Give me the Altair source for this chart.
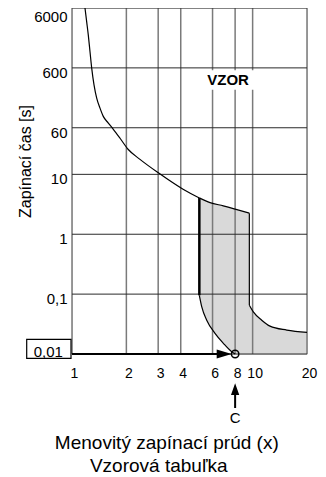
import altair as alt
import pandas as pd

FONT = "Liberation Sans"

# ---- axis ticks / labels ----
x_ticks = [1, 2, 3, 4, 6, 8, 10, 20]
y_ticks = [0.01, 0.1, 1, 10, 60, 600, 6000]
y_tick_labels = ["0,01", "0,1", "1", "10", "60", "600", "6000"]

# ---- curves ----
upper_x = [1.18, 1.206, 1.231, 1.258, 1.286, 1.324, 1.37, 1.429, 1.49, 1.589, 1.693, 1.845,
           2.049, 2.379, 3.006, 4.12, 5.07, 5.81, 6.88, 9.59]
upper_y = [6000, 3512, 2112, 1115, 589, 312, 187, 127.7, 93, 71.9, 56.6, 40.1,
           26.0, 17.8, 10.6, 5.64, 4.04, 3.38, 2.98, 2.25]
right_x = [9.59, 10.09, 11.23, 12.48, 15.45, 20]
right_y = [0.0652, 0.0504, 0.0367, 0.0292, 0.0251, 0.0229]
left_x = [5.07, 5.23, 5.57, 6.19, 6.88, 7.66, 8.0]
left_y = [0.0955, 0.061, 0.0367, 0.0221, 0.0151, 0.0109, 0.01]

band_left = 5.07
marker = (8, 0.01)
arrow_head_x = 6.96
vzor_box = dict(x1=5.38, x2=10.71, y1=258, y2=550)
vzor_pos = (7.31, 372)

# ---- scales & axes ----
xscale = alt.Scale(type="log", domain=[1, 20], nice=False)
yscale = alt.Scale(type="log", domain=[0.01, 6000], nice=False)


def y_label_expr():
    expr = "datum.label"
    for v, lab in zip(y_ticks, y_tick_labels):
        out = "" if v == y_ticks[0] else lab
        expr = f"datum.value == {v} ? '{out}' : ({expr})"
    return expr


xaxis = alt.Axis(
    values=x_ticks, grid=False, domain=False, ticks=False, tickSize=0,
    labelFlush=False, labelOverlap=False, labelOffset=2, labelPadding=12,
    labelFontSize=14, labelFont=FONT, labelColor="black", format="d",
    title="Menovitý zapínací prúd (x)", titleFont=FONT, titleFontSize=19,
    titleFontWeight="normal", titleColor="black", titleX=94.3, titleY=94.3,
    titleAlign="center", titleBaseline="alphabetic",
)
yaxis = alt.Axis(
    values=y_ticks, grid=False, domain=False, ticks=False, tickSize=0,
    labelExpr=y_label_expr(), labelFlush=False, labelOverlap=False,
    labelFontSize=15, labelFont=FONT, labelColor="black", labelPadding=5,
    labelOffset={"condition": {"test": f"datum.value == {y_ticks[-1]}", "value": 8}, "value": 4.5},
    labelBaseline="middle",
    title="Zapínací čas [s]", titleFont=FONT, titleFontSize=16,
    titleFontWeight="normal", titleColor="black", titleAngle=270,
    titleX=-46.5, titleY=153, titleAlign="center", titleBaseline="middle",
)


def X(f):
    return alt.X(f, type="quantitative", scale=xscale, axis=xaxis)


def Y(f):
    return alt.Y(f, type="quantitative", scale=yscale, axis=yaxis)


# ---- data tables ----
band_pts = list(zip(left_x, left_y)) + [(right_x[-1], y_ticks[0])] + list(zip(right_x, right_y))[::-1] \
    + [(x, y) for x, y in zip(upper_x, upper_y) if x >= band_left][::-1]
band_df = pd.DataFrame({"x": [p[0] for p in band_pts], "y": [p[1] for p in band_pts], "i": range(len(band_pts))})

upper_df = pd.DataFrame({"x": upper_x, "y": upper_y})
right_df = pd.DataFrame({"x": right_x, "y": right_y})
left_df = pd.DataFrame({"x": left_x, "y": left_y})
edge_df = pd.DataFrame({"x": [band_left], "y": [upper_y[upper_x.index(band_left)]], "y2": [left_y[0]]})
redge_df = pd.DataFrame({"x": [right_x[0]], "y": [upper_y[-1]], "y2": [right_y[0]]})

band = alt.Chart(band_df).mark_line(fill="#d9d9d9", strokeWidth=0).encode(x=X("x"), y=Y("y"), order="i:Q")
vgrid = alt.Chart(pd.DataFrame({"x": x_ticks})).mark_rule(color="#7a7a7a", strokeWidth=1.5).encode(x=X("x"))
hgrid = alt.Chart(pd.DataFrame({"y": y_ticks})).mark_rule(color="#2a2a2a", strokeWidth=1).encode(y=Y("y"))

vbox = alt.Chart(pd.DataFrame([vzor_box])).mark_rect(color="white", opacity=1).encode(
    x=X("x1"), x2="x2", y=Y("y1"), y2="y2")
vtext = alt.Chart(pd.DataFrame({"x": [vzor_pos[0]], "y": [vzor_pos[1]], "t": ["VZOR"]})).mark_text(
    font=FONT, fontSize=15, fontWeight="bold", color="black", baseline="middle", align="center"
).encode(x=X("x"), y=Y("y"), text="t:N")

upper_line = alt.Chart(upper_df).mark_line(color="black", strokeWidth=1.2, interpolate="monotone").encode(
    x=X("x"), y=Y("y"))
right_line = alt.Chart(right_df).mark_line(color="black", strokeWidth=1.2, interpolate="monotone").encode(
    x=X("x"), y=Y("y"))
left_line = alt.Chart(left_df).mark_line(color="black", strokeWidth=1.2, interpolate="monotone").encode(
    x=X("x"), y=Y("y"))
edge = alt.Chart(edge_df).mark_rule(color="black", strokeWidth=2.5).encode(x=X("x"), y=Y("y"), y2="y2")
redge = alt.Chart(redge_df).mark_rule(color="black", strokeWidth=1.2).encode(x=X("x"), y=Y("y"), y2="y2")

# arrow from the 0,01 box to the marker
arrow_df = pd.DataFrame({"x": [x_ticks[0]], "x2": [arrow_head_x], "y": [y_ticks[0]]})
shaft = alt.Chart(arrow_df).mark_rule(color="black", strokeWidth=2).encode(x=X("x"), x2="x2", y=Y("y"))
head = alt.Chart(pd.DataFrame({"x": [arrow_head_x], "y": [y_ticks[0]]})).mark_point(
    shape="M-1,-0.6L1,0L-1,0.6Z", size=225, filled=True, color="black", opacity=1
).encode(x=X("x"), y=Y("y"))
circle = alt.Chart(pd.DataFrame({"x": [marker[0]], "y": [marker[1]]})).mark_point(
    shape="circle", size=55, filled=False, color="black", strokeWidth=1.5, opacity=1
).encode(x=X("x"), y=Y("y"))

# boxed 0,01 label
lab_df = pd.DataFrame({"y": [y_ticks[0]], "t": [y_tick_labels[0]]})
lab_box = alt.Chart(lab_df).mark_rect(fill="white", stroke="black", strokeWidth=1.2, yOffset=-14.7, y2Offset=4.3).encode(
    x=alt.value(-45.3), x2=alt.value(-1), y=Y("y"), y2="y")
lab_text = alt.Chart(lab_df).mark_text(font=FONT, fontSize=15, color="black", baseline="alphabetic", align="center", dy=3.3).encode(
    x=alt.value(-23.7), y=Y("y"), text="t:N")

# C marker below the axis
c_df = pd.DataFrame({"x": [marker[0]], "t": ["C"]})
c_shaft = alt.Chart(c_df).mark_rule(color="black", strokeWidth=2).encode(x=X("x"), y=alt.value(387), y2=alt.value(400))
c_head = alt.Chart(c_df).mark_point(shape="M0,-1L0.71,1L-0.71,1Z", size=137, filled=True, color="black", opacity=1).encode(
    x=X("x"), y=alt.value(381.2))
c_text = alt.Chart(c_df).mark_text(font=FONT, fontSize=15, color="black", baseline="middle", align="center").encode(
    x=X("x"), y=alt.value(410), text="t:N")

chart = alt.layer(
    band, vgrid, hgrid, vbox, vtext, upper_line, right_line, left_line, edge, redge,
    shaft, head, circle, lab_box, lab_text, c_shaft, c_head, c_text,
).properties(
    width=235, height=346,
    title=alt.TitleParams(text="Vzorová tabuľka", orient="bottom", anchor="middle", frame="group",
                          font=FONT, fontSize=19, fontWeight="normal", color="black", dx=-30.8, offset=5),
    autosize=alt.AutoSizeParams(type="none"),
    padding={"left": 64, "top": 0, "right": 11, "bottom": 123},
).configure_view(strokeWidth=0).configure(background="white")

chart.save("out.html", embed_options={"renderer": "svg", "actions": False})
